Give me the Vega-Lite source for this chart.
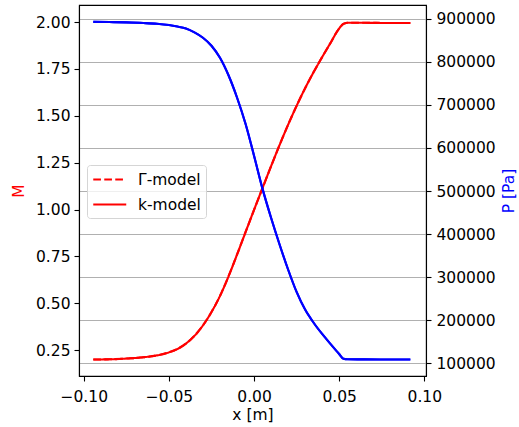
{
  "$schema": "https://vega.github.io/schema/vega-lite/v6.json",
  "width": 347,
  "height": 371,
  "autosize": {"type": "none"},
  "padding": {"left": 79, "top": 5, "right": 93, "bottom": 51},
  "datasets": {
    "pts": [
      {"x": -0.0944, "M": 0.200, "P": 892300, "model": "Γ-model"},
      {"x": -0.085, "M": 0.201, "P": 892000, "model": "Γ-model"},
      {"x": -0.075, "M": 0.205, "P": 891200, "model": "Γ-model"},
      {"x": -0.065, "M": 0.212, "P": 889800, "model": "Γ-model"},
      {"x": -0.057, "M": 0.222, "P": 888000, "model": "Γ-model"},
      {"x": -0.050, "M": 0.238, "P": 885000, "model": "Γ-model"},
      {"x": -0.045, "M": 0.256, "P": 881500, "model": "Γ-model"},
      {"x": -0.040, "M": 0.285, "P": 877000, "model": "Γ-model"},
      {"x": -0.035, "M": 0.326, "P": 868000, "model": "Γ-model"},
      {"x": -0.030, "M": 0.382, "P": 855500, "model": "Γ-model"},
      {"x": -0.025, "M": 0.453, "P": 837000, "model": "Γ-model"},
      {"x": -0.020, "M": 0.539, "P": 809000, "model": "Γ-model"},
      {"x": -0.015, "M": 0.643, "P": 768500, "model": "Γ-model"},
      {"x": -0.010, "M": 0.759, "P": 717000, "model": "Γ-model"},
      {"x": -0.005, "M": 0.879, "P": 656000, "model": "Γ-model"},
      {"x": 0.000, "M": 0.998, "P": 582000, "model": "Γ-model"},
      {"x": 0.005, "M": 1.115, "P": 505000, "model": "Γ-model"},
      {"x": 0.010, "M": 1.231, "P": 438000, "model": "Γ-model"},
      {"x": 0.015, "M": 1.344, "P": 376000, "model": "Γ-model"},
      {"x": 0.020, "M": 1.452, "P": 318000, "model": "Γ-model"},
      {"x": 0.025, "M": 1.553, "P": 266000, "model": "Γ-model"},
      {"x": 0.030, "M": 1.647, "P": 225000, "model": "Γ-model"},
      {"x": 0.035, "M": 1.733, "P": 194500, "model": "Γ-model"},
      {"x": 0.040, "M": 1.813, "P": 168500, "model": "Γ-model"},
      {"x": 0.045, "M": 1.890, "P": 145000, "model": "Γ-model"},
      {"x": 0.050, "M": 1.966, "P": 122000, "model": "Γ-model"},
      {"x": 0.0525, "M": 1.990, "P": 111000, "model": "Γ-model"},
      {"x": 0.055, "M": 1.996, "P": 109800, "model": "Γ-model"},
      {"x": 0.065, "M": 1.996, "P": 109500, "model": "Γ-model"},
      {"x": 0.080, "M": 1.995, "P": 109400, "model": "Γ-model"},
      {"x": 0.0918, "M": 1.995, "P": 109300, "model": "Γ-model"},
      {"x": -0.0944, "M": 0.200, "P": 892300, "model": "k-model"},
      {"x": -0.085, "M": 0.201, "P": 892000, "model": "k-model"},
      {"x": -0.075, "M": 0.205, "P": 891200, "model": "k-model"},
      {"x": -0.065, "M": 0.212, "P": 889800, "model": "k-model"},
      {"x": -0.057, "M": 0.222, "P": 888000, "model": "k-model"},
      {"x": -0.050, "M": 0.238, "P": 885000, "model": "k-model"},
      {"x": -0.045, "M": 0.256, "P": 881500, "model": "k-model"},
      {"x": -0.040, "M": 0.285, "P": 877000, "model": "k-model"},
      {"x": -0.035, "M": 0.326, "P": 868000, "model": "k-model"},
      {"x": -0.030, "M": 0.382, "P": 855500, "model": "k-model"},
      {"x": -0.025, "M": 0.453, "P": 837000, "model": "k-model"},
      {"x": -0.020, "M": 0.539, "P": 809000, "model": "k-model"},
      {"x": -0.015, "M": 0.643, "P": 768500, "model": "k-model"},
      {"x": -0.010, "M": 0.759, "P": 717000, "model": "k-model"},
      {"x": -0.005, "M": 0.879, "P": 656000, "model": "k-model"},
      {"x": 0.000, "M": 0.998, "P": 582000, "model": "k-model"},
      {"x": 0.005, "M": 1.115, "P": 505000, "model": "k-model"},
      {"x": 0.010, "M": 1.231, "P": 438000, "model": "k-model"},
      {"x": 0.015, "M": 1.344, "P": 376000, "model": "k-model"},
      {"x": 0.020, "M": 1.452, "P": 318000, "model": "k-model"},
      {"x": 0.025, "M": 1.553, "P": 266000, "model": "k-model"},
      {"x": 0.030, "M": 1.647, "P": 225000, "model": "k-model"},
      {"x": 0.035, "M": 1.733, "P": 194500, "model": "k-model"},
      {"x": 0.040, "M": 1.813, "P": 168500, "model": "k-model"},
      {"x": 0.045, "M": 1.890, "P": 145000, "model": "k-model"},
      {"x": 0.050, "M": 1.966, "P": 122000, "model": "k-model"},
      {"x": 0.0525, "M": 1.990, "P": 111000, "model": "k-model"},
      {"x": 0.055, "M": 1.996, "P": 109800, "model": "k-model"},
      {"x": 0.065, "M": 1.996, "P": 109500, "model": "k-model"},
      {"x": 0.080, "M": 1.995, "P": 109400, "model": "k-model"},
      {"x": 0.0918, "M": 1.995, "P": 109300, "model": "k-model"}
    ]
  },
  "data": {"name": "pts"},
  "layer": [
    {
      "mark": {"type": "line", "color": "red", "strokeWidth": 2.1, "interpolate": "monotone"},
      "encoding": {
        "x": {
          "field": "x", "type": "quantitative",
          "scale": {"domain": [-0.1028, 0.101], "nice": false, "zero": false},
          "axis": {"title": "x [m]", "values": [-0.1, -0.05, 0, 0.05, 0.1], "format": ".2f", "grid": false, "labelPadding": 8, "titlePadding": 3}
        },
        "y": {
          "field": "M", "type": "quantitative",
          "scale": {"domain": [0.112, 2.091], "nice": false, "zero": false},
          "axis": {"title": "M", "titleColor": "red", "values": [0.25, 0.5, 0.75, 1.0, 1.25, 1.5, 1.75, 2.0], "format": ".2f", "grid": false, "labelPadding": 4, "titlePadding": 9}
        },
        "strokeDash": {
          "field": "model", "type": "nominal",
          "scale": {"domain": ["Γ-model", "k-model"], "range": [[7.7, 3.3], [1, 0]]},
          "legend": {
            "title": null, "orient": "none", "legendX": 8, "legendY": 160,
            "symbolType": "M-1,0H3", "symbolSize": 272, "symbolStrokeWidth": 2.1,
            "symbolStrokeColor": "red", "symbolFillColor": "transparent",
            "labelOffset": 27, "labelFontSize": 15.5, "labelFont": "DejaVu Sans", "labelColor": "black",
            "rowPadding": 7, "padding": 5,
            "strokeColor": "#d5d5d5", "fillColor": "rgba(255,255,255,0.8)", "cornerRadius": 3
          }
        }
      }
    },
    {
      "mark": {"type": "line", "color": "blue", "strokeWidth": 2.1, "interpolate": "monotone"},
      "encoding": {
        "x": {"field": "x", "type": "quantitative"},
        "y": {
          "field": "P", "type": "quantitative",
          "scale": {"domain": [71000, 931500], "nice": false, "zero": false},
          "axis": {"orient": "right", "title": "P [Pa]", "titleColor": "blue", "titleAngle": 270, "titleBaseline": "top", "values": [100000, 200000, 300000, 400000, 500000, 600000, 700000, 800000, 900000], "format": "d", "grid": true, "gridColor": "#b0b0b0", "gridWidth": 1.1, "labelPadding": 5, "titlePadding": 6}
        },
        "detail": {"field": "model", "type": "nominal"}
      }
    }
  ],
  "resolve": {"scale": {"y": "independent"}},
  "config": {
    "view": {"stroke": "black", "strokeWidth": 1.1},
    "axis": {
      "domainColor": "black", "domainWidth": 1.1,
      "tickColor": "black", "tickWidth": 1.1, "tickSize": 5,
      "labelFont": "DejaVu Sans", "labelFontSize": 15.5, "labelColor": "black",
      "titleFont": "DejaVu Sans", "titleFontSize": 15.5, "titleFontWeight": "normal", "titleColor": "black"
    }
  }
}
